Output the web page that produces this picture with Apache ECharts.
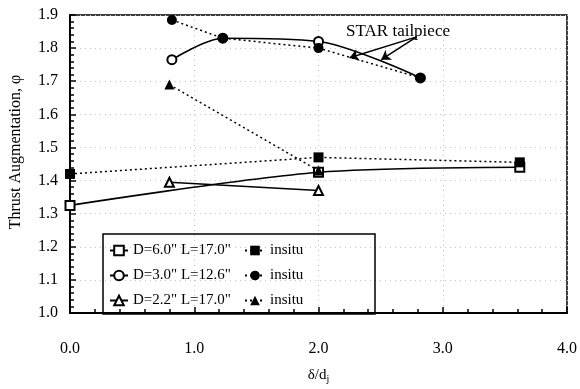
<!DOCTYPE html>
<html>
<head>
<meta charset="utf-8">
<script src="https://cdn.jsdelivr.net/npm/echarts@6/dist/echarts.min.js"></script>
<style>
  html, body { margin: 0; padding: 0; background: #fff; }
  #chart { width: 580px; height: 389px; }
</style>
</head>
<body>
<div id="chart"></div>
<script>
// Thrust augmentation vs. ejector spacing, three ejector geometries plus in-situ runs
const xTicks = [0, 1, 2, 3, 4];
const yTicks = [1.0, 1.1, 1.2, 1.3, 1.4, 1.5, 1.6, 1.7, 1.8, 1.9];

const nameD60 = 'D=6.0" L=17.0"';
const nameD30 = 'D=3.0" L=12.6"';
const nameD22 = 'D=2.2" L=17.0"';

// [delta/dj, phi]
const d60 = [[0.0, 1.325], [2.0, 1.425], [3.62, 1.44]];
const d60Insitu = [[0.0, 1.42], [2.0, 1.47], [3.62, 1.455]];
const d30 = [[0.82, 1.765], [1.23, 1.83], [2.0, 1.82], [2.82, 1.71]];
const d30Insitu = [[0.82, 1.885], [1.23, 1.83], [2.0, 1.80], [2.82, 1.71]];
const d22 = [[0.8, 1.395], [2.0, 1.37]];
const d22Insitu = [[0.8, 1.69], [2.0, 1.43]];

// callout: label anchor and the two arrows (start -> head)
const calloutText = 'STAR tailpiece';
const calloutAt = [2.64, 1.849];
const calloutArrows = [
  [[2.79, 1.834], [2.25, 1.771]],
  [[2.79, 1.834], [2.505, 1.765]]
];

const FONT = 'Liberation Serif';

const chart = echarts.init(document.getElementById('chart'), null, { renderer: 'canvas' });

function mainSeries(name, data, symbol) {
  return {
    name, type: 'line', data, symbol, symbolSize: 9, smooth: 0.3,
    color: '#000',
    itemStyle: { color: '#000', borderColor: '#000', borderWidth: 1.6 },
    lineStyle: { color: '#000', width: 1.6 },
    z: 3
  };
}
function insituSeries(name, data, symbol, size) {
  return {
    name, type: 'line', data, symbol, symbolSize: size,
    color: '#000',
    itemStyle: { color: '#000' },
    lineStyle: { color: '#000', width: 1.5, type: [2, 3] },
    z: 4
  };
}

const insD60 = 'insitu-6.0', insD30 = 'insitu-3.0', insD22 = 'insitu-2.2';

const series = [
  mainSeries(nameD60, d60, 'emptyRect'),
  mainSeries(nameD30, d30, 'emptyCircle'),
  mainSeries(nameD22, d22, 'emptyTriangle'),
  insituSeries(insD60, d60Insitu, 'rect', 10),
  Object.assign(insituSeries(insD30, d30Insitu, 'circle', 10), {
    markLine: {
      silent: true,
      symbol: ['none', 'arrow'],
      symbolSize: 9,
      label: { show: false },
      lineStyle: { color: '#000', width: 1.5, type: 'solid' },
      data: calloutArrows.map(a => [{ coord: a[0] }, { coord: a[1] }])
    },
    markPoint: {
      silent: true,
      symbol: 'circle',
      symbolSize: 1,
      itemStyle: { color: 'rgba(0,0,0,0)' },
      label: {
        show: true, position: 'inside', formatter: calloutText,
        color: '#000', fontFamily: FONT, fontSize: 17
      },
      data: [{ coord: calloutAt }]
    }
  }),
  insituSeries(insD22, d22Insitu, 'triangle', 10)
];

const legendBase = {
  orient: 'vertical',
  top: 238,
  itemHeight: 12,
  itemGap: 10,
  selectedMode: false,
  textStyle: { fontFamily: FONT, fontSize: 15, color: '#000' }
};

chart.setOption({
  animation: false,
  backgroundColor: '#fff',
  grid: {
    left: 67, right: 10, top: 15, bottom: 74,
    show: true, borderColor: '#000', borderWidth: 1.5
  },
  legend: [
    Object.assign({}, legendBase, { left: 104, itemWidth: 18, data: [nameD60, nameD30, nameD22] }),
    Object.assign({}, legendBase, {
      left: 239, itemWidth: 20, data: [insD60, insD30, insD22],
      formatter: () => 'insitu'
    })
  ],
  graphic: [{
    type: 'rect',
    shape: { x: 103, y: 234, width: 272, height: 80 },
    style: { fill: 'rgba(0,0,0,0)', stroke: '#000', lineWidth: 1.5 },
    z: 1
  }],
  xAxis: {
    type: 'value',
    min: xTicks[0], max: xTicks[xTicks.length - 1], interval: 1,
    name: 'δ/d{sub|j}',
    nameLocation: 'middle',
    nameGap: 53,
    nameTextStyle: {
      fontFamily: FONT, fontSize: 15, color: '#000',
      rich: { sub: { fontFamily: FONT, fontSize: 10, verticalAlign: 'bottom', padding: [8, 0, 0, 0] } }
    },
    axisLine: { show: true, lineStyle: { color: '#000', width: 2 } },
    axisTick: { show: true, inside: true, length: 6, lineStyle: { color: '#000', width: 1.5 } },
    minorTick: { show: true, splitNumber: 5, length: 4, lineStyle: { color: '#000', width: 1.5 } },
    axisLabel: {
      margin: 28, color: '#000', fontFamily: FONT, fontSize: 16,
      formatter: v => v.toFixed(1)
    },
    splitLine: { show: true, lineStyle: { color: '#c4c4c4', width: 1, type: [1, 4] } }
  },
  yAxis: {
    type: 'value',
    min: yTicks[0], max: yTicks[yTicks.length - 1], interval: 0.1,
    name: 'Thrust Augmentation, φ',
    nameLocation: 'middle',
    nameGap: 46,
    nameTextStyle: { fontFamily: FONT, fontSize: 16, color: '#000', padding: [0, 0, 0, 24] },
    axisLine: { show: true, lineStyle: { color: '#000', width: 2 } },
    axisTick: { show: true, inside: true, length: 6, lineStyle: { color: '#000', width: 1.5 } },
    minorTick: { show: true, splitNumber: 5, length: 4, lineStyle: { color: '#000', width: 1.5 } },
    axisLabel: {
      margin: 12, color: '#000', fontFamily: FONT, fontSize: 16,
      formatter: v => v.toFixed(1)
    },
    splitLine: { show: true, lineStyle: { color: '#c4c4c4', width: 1, type: [1, 4] } }
  },
  series
});
</script>
</body>
</html>
